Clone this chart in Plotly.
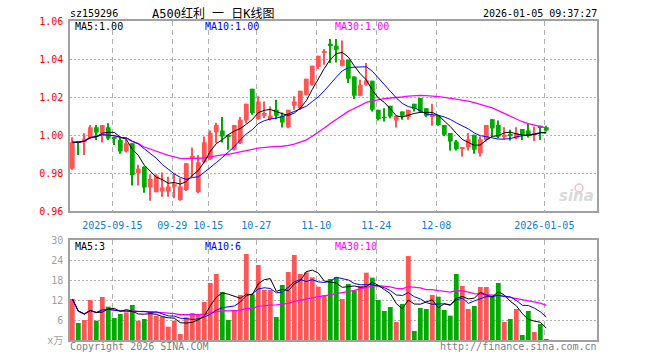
import plotly.graph_objects as go

# ---------------- data ----------------
dates = ["2025-09-04","2025-09-05","2025-09-08","2025-09-09","2025-09-10","2025-09-11","2025-09-12",
         "2025-09-15","2025-09-16","2025-09-17","2025-09-18","2025-09-19","2025-09-22","2025-09-23",
         "2025-09-24","2025-09-25","2025-09-26","2025-09-29","2025-09-30",
         "2025-10-09","2025-10-10","2025-10-13","2025-10-14","2025-10-15","2025-10-16","2025-10-17",
         "2025-10-20","2025-10-21","2025-10-22","2025-10-23","2025-10-24","2025-10-27","2025-10-28",
         "2025-10-29","2025-10-30","2025-10-31",
         "2025-11-03","2025-11-04","2025-11-05","2025-11-06","2025-11-07","2025-11-10","2025-11-11",
         "2025-11-12","2025-11-13","2025-11-14","2025-11-17","2025-11-18","2025-11-19","2025-11-20",
         "2025-11-21","2025-11-24","2025-11-25","2025-11-26","2025-11-27","2025-11-28",
         "2025-12-01","2025-12-02","2025-12-03","2025-12-04","2025-12-05","2025-12-08","2025-12-09",
         "2025-12-10","2025-12-11","2025-12-12","2025-12-15","2025-12-16","2025-12-17","2025-12-18",
         "2025-12-19","2025-12-22","2025-12-23","2025-12-24","2025-12-25","2025-12-26","2025-12-29",
         "2025-12-30","2025-12-31","2026-01-05"]

open_ = [0.9823,0.9965,0.9963,0.9984,1.0042,1.0010,1.0042,0.9986,0.9975,0.9914,
         0.9958,0.9800,0.9835,0.9725,0.9700,0.9704,0.9704,0.9730,0.9660,0.9712,
         0.9882,0.9700,0.9858,0.9874,1.0016,1.0025,0.9998,0.9923,0.9958,1.0077,
         1.0244,1.0084,1.0102,1.0084,1.0133,1.0102,1.0042,1.0154,1.0142,1.0212,
         1.0265,1.0358,1.0432,1.0480,1.0470,1.0365,1.0396,1.0309,1.0207,1.0265,
         1.0286,1.0133,1.0095,1.0154,1.0077,1.0125,1.0095,1.0165,1.0195,1.0142,
         1.0098,1.0102,1.0054,1.0011,0.9967,0.9930,0.9937,1.0002,0.9905,0.9975,
         1.0084,1.0054,0.9993,1.0000,0.9982,1.0033,1.0025,1.0005,1.0049,1.0042]
high = [0.9989,0.9966,1.0010,1.0054,1.0054,1.0054,1.0063,0.9993,0.9993,0.9975,
        0.9958,0.9844,0.9835,0.9795,0.9795,0.9804,0.9782,0.9800,0.9774,0.9853,
        0.9935,0.9896,0.9993,1.0025,1.0065,1.0095,1.0002,1.0054,1.0095,1.0165,
        1.0244,1.0204,1.0177,1.0151,1.0186,1.0119,1.0133,1.0204,1.0233,1.0296,
        1.0365,1.0418,1.0453,1.0505,1.0505,1.0498,1.0396,1.0309,1.0291,1.0379,
        1.0286,1.0133,1.0142,1.0154,1.0102,1.0125,1.0133,1.0165,1.0195,1.0142,
        1.0165,1.0102,1.0054,1.0011,0.9975,0.9937,1.0011,1.0002,0.9993,1.0054,
        1.0084,1.0077,1.0042,1.0028,1.0042,1.0033,1.0060,1.0046,1.0049,1.0049]
low = [0.9818,0.9896,0.9896,0.9980,0.9975,0.9961,0.9975,0.9949,0.9902,0.9909,
       0.9735,0.9735,0.9698,0.9656,0.9700,0.9677,0.9677,0.9668,0.9656,0.9707,
       0.9782,0.9695,0.9853,0.9870,0.9958,0.9961,0.9923,0.9919,0.9953,1.0063,
       1.0107,1.0081,1.0090,1.0077,1.0084,1.0040,1.0037,1.0133,1.0133,1.0209,
       1.0260,1.0346,1.0370,1.0379,1.0382,1.0361,1.0274,1.0190,1.0204,1.0260,
       1.0125,1.0077,1.0072,1.0089,1.0040,1.0081,1.0081,1.0125,1.0119,1.0095,
       1.0049,1.0049,0.9996,0.9919,0.9919,0.9888,0.9919,0.9902,0.9888,0.9967,
       0.9993,0.9984,0.9979,0.9972,0.9979,0.9975,0.9988,0.9970,0.9975,1.0019]
close = [0.9963,0.9962,0.9981,1.0042,1.0014,1.0054,0.9982,0.9983,0.9914,0.9958,
         0.9791,0.9823,0.9725,0.9770,0.9788,0.9725,0.9730,0.9742,0.9730,0.9853,
         0.9891,0.9858,0.9963,1.0011,1.0054,0.9993,0.9993,1.0054,1.0081,1.0165,
         1.0116,1.0177,1.0116,1.0102,1.0102,1.0067,1.0133,1.0177,1.0233,1.0296,
         1.0365,1.0418,1.0440,1.0472,1.0449,1.0396,1.0296,1.0207,1.0265,1.0288,
         1.0133,1.0084,1.0091,1.0098,1.0102,1.0102,1.0133,1.0137,1.0125,1.0102,
         1.0102,1.0054,1.0002,0.9967,0.9926,0.9937,0.9979,0.9923,0.9979,1.0054,
         1.0035,0.9993,1.0000,0.9997,1.0011,1.0000,0.9996,1.0011,1.0042,1.0025]

ma5 = [0.9963,0.99625,0.99687,0.9987,0.99924,1.00106,1.00146,1.0015,0.99894,0.99782,
       0.99256,0.98938,0.98422,0.98134,0.97794,0.97662,0.97476,0.9751,0.9743,0.9756,
       0.97892,0.98148,0.9859,0.99152,0.99554,0.99758,1.00028,1.0021,1.0035,1.00572,
       1.00818,1.01186,1.0131,1.01352,1.01226,1.01128,1.0104,1.01162,1.01424,1.01812,
       1.02408,1.02978,1.03504,1.03982,1.04288,1.0435,1.04106,1.0364,1.03226,1.02904,
       1.02378,1.01954,1.01722,1.01388,1.01016,1.00954,1.01052,1.01144,1.01198,1.01198,
       1.01198,1.0104,1.0077,1.00454,1.00102,0.99772,0.99622,0.99464,0.99488,0.99744,
       0.9994,0.99968,1.00122,1.00158,1.00072,1.00002,1.00008,1.0003,1.0012,1.00148]
ma10 = [0.9963,0.99625,0.99687,0.9987,0.99924,1.00027,0.99997,0.99976,0.99883,0.99853,
        0.99681,0.99542,0.99286,0.99014,0.98788,0.98459,0.98207,0.97966,0.97782,0.97677,
        0.97777,0.97812,0.9805,0.98291,0.98557,0.98825,0.99088,0.994,0.99751,1.00063,
        1.00288,1.00607,1.0076,1.00851,1.00899,1.00973,1.01113,1.01236,1.01388,1.01519,
        1.01768,1.02009,1.02333,1.02703,1.0305,1.03379,1.03542,1.03572,1.03604,1.03596,
        1.03364,1.0303,1.02681,1.02307,1.0196,1.01666,1.01503,1.01433,1.01293,1.01107,
        1.01076,1.01046,1.00957,1.00826,1.0065,1.00485,1.00331,1.00117,0.99971,0.99923,
        0.99856,0.99795,0.99793,0.99823,0.99908,0.99971,0.99988,1.00076,1.00139,1.0011]
ma30 = [0.9963,0.99625,0.99687,0.9987,0.99924,1.00027,0.99997,0.99976,0.99883,0.99853,
        0.99676,0.99556,0.99378,0.99259,0.99167,0.99047,0.98944,0.98859,0.98777,0.98765,
        0.98772,0.98763,0.98801,0.98855,0.98923,0.98962,0.98997,0.99053,0.99113,0.99198,
        0.99249,0.9932,0.99365,0.99385,0.99415,0.99419,0.99469,0.99534,0.9964,0.99753,
        0.99944,1.00143,1.00381,1.00615,1.00835,1.01059,1.01248,1.01403,1.01581,1.01726,
        1.01807,1.01882,1.01925,1.01954,1.0197,1.02006,1.02053,1.0208,1.02095,1.02074,
        1.02069,1.02028,1.0199,1.01945,1.01887,1.01843,1.01792,1.01707,1.01623,1.01542,
        1.01432,1.0129,1.01144,1.00985,1.00839,1.00707,1.00607,1.00542,1.00468,1.0038]

volume = [12.3,5.1,6.0,12.0,5.8,12.9,10.0,6.6,7.8,8.3,
          10.5,5.8,6.3,8.7,7.3,7.0,4.0,5.8,1.8,6.8,
          8.1,7.8,11.4,17.1,19.8,14.4,6.0,8.9,13.5,25.8,
          13.7,22.5,15.0,15.0,6.9,16.5,20.4,25.5,19.8,20.3,
          18.8,16.0,13.5,18.3,18.9,12.3,16.8,14.8,16.2,20.2,
          18.7,12.0,8.7,9.9,5.4,10.8,25.2,2.7,9.6,9.3,
          13.5,13.0,9.0,7.3,19.8,16.2,9.3,10.2,15.9,15.9,
          13.3,17.1,5.4,6.3,9.3,1.5,8.7,2.4,4.8,0.3]
vma5 = [12.3,8.7,7.8,8.85,8.24,8.36,9.34,9.46,8.62,9.12,
        8.64,7.8,7.74,7.92,7.72,7.02,6.66,6.56,5.18,5.08,
        5.3,6.06,7.18,10.24,12.84,14.1,13.74,13.24,12.52,13.72,
        13.58,16.88,18.1,18.4,14.62,15.18,14.76,16.86,17.82,20.5,
        20.96,20.08,17.68,17.38,17.1,15.8,15.96,16.22,15.8,16.06,
        17.34,16.38,15.16,13.9,10.94,9.36,12.0,10.8,10.74,11.52,
        12.06,9.62,10.88,10.42,12.52,13.06,12.32,12.56,14.28,13.5,
        12.92,14.48,13.52,11.6,10.28,7.92,6.24,5.64,5.34,3.54]
vma10 = [12.3,8.7,7.8,8.85,8.24,9.02,9.16,8.84,8.72,8.68,
         8.5,8.57,8.6,8.27,8.42,7.83,7.23,7.15,6.55,6.4,
         6.16,6.36,6.87,7.71,8.96,9.7,9.9,10.21,11.38,13.28,
         13.84,15.31,15.67,15.46,14.17,14.38,15.82,17.48,18.11,17.56,
         18.07,17.42,17.27,17.6,18.8,18.38,18.02,16.95,16.59,16.58,
         16.57,16.17,15.69,14.85,13.5,13.35,14.19,12.98,12.32,11.23,
         10.71,10.81,10.84,10.58,12.02,12.56,10.97,11.72,12.35,13.01,
         12.99,13.4,13.04,12.94,11.89,10.42,10.36,9.58,8.47,6.91]
vma30 = [12.3,8.7,7.8,8.85,8.24,9.02,9.16,8.84,8.72,8.68,
         8.85,8.59,8.42,8.44,8.36,8.28,8.02,7.9,7.58,7.54,
         7.57,7.58,7.74,8.13,8.6,8.82,8.72,8.73,8.89,9.45,
         9.5,10.08,10.38,10.48,10.52,10.64,10.98,11.61,12.01,12.41,
         12.69,13.03,13.27,13.59,13.98,14.15,14.58,14.88,15.36,15.81,
         16.16,16.3,16.21,15.97,15.49,15.37,16.01,15.8,15.67,15.12,
         15.12,14.8,14.6,14.34,14.77,14.76,14.39,13.88,13.75,13.61,
         13.42,13.46,13.19,12.79,12.47,12.11,11.84,11.43,11.05,10.38]

tick_idx = [7, 17, 23, 31, 41, 51, 61, 79]
tick_text = ["2025-09-15", "09-29", "10-15", "10-27", "11-10", "11-24", "12-08", "2026-01-05"]
price_ticks = [0.96, 0.98, 1.00, 1.02, 1.04, 1.06]
vol_ticks = [0, 6, 12, 18, 24, 30]
vol_tick_text = ["x万", "6", "12", "18", "24", "30"]

symbol = "sz159296"
title = "A500红利 一 日K线图"
stamp = "2026-01-05 09:37:27"

# ---------------- style ----------------
RED = "#FF5555"
GREEN = "#00AA00"
MONO = "DejaVu Sans Mono, Noto Sans CJK SC"
GRID = "#B0B0B0"
BORDER = "#A0A0A0"

W, H = 660, 360
ML, MR, MT, MB = 70, 63, 21, 20
PW, PH = W - ML - MR, H - MT - MB


def px(xp):
    return (xp - ML) / PW


def py(yp):
    return (H - MB - yp) / PH


n = len(close)
idx = list(range(n))
cols = [RED if c >= o else GREEN for o, c in zip(open_, close)]

MINB = 0.0005
body_base, body_h = [], []
for o, c in zip(open_, close):
    lo, hi = min(o, c), max(o, c)
    if hi - lo < MINB:
        mid = (hi + lo) / 2
        lo, hi = mid - MINB / 2, mid + MINB / 2
    body_base.append(lo)
    body_h.append(hi - lo)

fig = go.Figure()
# wicks
fig.add_trace(go.Bar(x=idx, y=[h - l for h, l in zip(high, low)], base=low, width=0.18,
                     marker=dict(color=cols, line_width=0), xaxis="x", yaxis="y",
                     hoverinfo="skip"))
# bodies
fig.add_trace(go.Bar(x=idx, y=body_h, base=body_base, width=0.8,
                     marker=dict(color=cols, line_width=0), xaxis="x", yaxis="y",
                     customdata=list(zip(dates, open_, high, low, close)),
                     hovertemplate="%{customdata[0]}<br>O %{customdata[1]}<br>H %{customdata[2]}"
                                   "<br>L %{customdata[3]}<br>C %{customdata[4]}<extra></extra>"))
for arr, col, w in [(ma30, "#FF00FF", 1.3), (ma10, "#0000FF", 1.0), (ma5, "#000000", 1.0)]:
    fig.add_trace(go.Scatter(x=idx, y=arr, mode="lines", line=dict(color=col, width=w),
                             xaxis="x", yaxis="y", hoverinfo="skip"))

# volume
fig.add_trace(go.Bar(x=idx, y=volume, width=0.8, marker=dict(color=cols, line_width=0),
                     xaxis="x2", yaxis="y2", customdata=dates,
                     hovertemplate="%{customdata}<br>%{y}<extra></extra>"))
for arr, col, w in [(vma30, "#FF00FF", 1.3), (vma10, "#0000FF", 1.0), (vma5, "#000000", 1.0)]:
    fig.add_trace(go.Scatter(x=idx, y=arr, mode="lines", line=dict(color=col, width=w),
                             xaxis="x2", yaxis="y2", hoverinfo="skip"))

xr = [(ML - 72.3) / 6.0, (W - MR - 72.3) / 6.0]
tickpos = [i - 1 / 3 for i in tick_idx]

common_x = dict(range=xr, tickmode="array", tickvals=tickpos, showgrid=True, gridcolor=GRID,
                griddash="5px,4px", gridwidth=1, zeroline=False, showline=True, mirror=True,
                linecolor=BORDER, linewidth=1.5, fixedrange=True)
common_y = dict(showgrid=True, gridcolor=GRID, griddash="2px,2px", gridwidth=1, zeroline=False,
                showline=True, mirror=True, linecolor=BORDER, linewidth=1.5, fixedrange=True,
                tickmode="array", ticks="outside", ticklen=3, tickcolor="rgba(0,0,0,0)")

fig.update_layout(
    width=W, height=H, margin=dict(l=ML, r=MR, t=MT, b=MB),
    paper_bgcolor="white", plot_bgcolor="white", showlegend=False,
    barmode="overlay", hovermode="closest",
    xaxis=dict(**common_x, anchor="y", domain=[0, 1], ticktext=tick_text,
               ticks="outside", ticklen=4, tickcolor="rgba(0,0,0,0)",
               tickfont=dict(family=MONO, size=10, color="#0A7ED6")),
    yaxis=dict(**common_y, domain=[py(211.3), 1.0], range=[0.96, 1.06], tickvals=price_ticks,
               ticktext=["%.2f" % v for v in price_ticks],
               tickfont=dict(family=MONO, size=10, color="#FF0000")),
    xaxis2=dict(**common_x, anchor="y2", domain=[0, 1], matches="x", showticklabels=False),
    yaxis2=dict(**common_y, domain=[0, py(240)], range=[0, 30], tickvals=vol_ticks,
                ticktext=vol_tick_text, tickfont=dict(family=MONO, size=10, color="#A0A0A0")),
)

ann = []


def text(x, y, s, color="#000000", size=10, xanchor="left", family=MONO, **kw):
    ann.append(dict(x=px(x), y=py(y), xref="paper", yref="paper", text=s, showarrow=False,
                    xanchor=xanchor, yanchor="middle", font=dict(family=family, size=size, color=color),
                    **kw))


text(68, 13, symbol)
text(150, 13, title, size=12)
text(599, 13, stamp, xanchor="right")
text(73, 26.5, "MA5:%.2f" % ma5[-1])
text(203, 26.5, "MA10:%.2f" % ma10[-1], color="#0000FF")
text(333, 26.5, "MA30:%.2f" % ma30[-1], color="#FF00FF")
text(73, 247, "MA5:%d" % int(vma5[-1]))
text(203, 247, "MA10:%d" % int(vma10[-1]), color="#0000FF")
text(333, 247, "MA30:%d" % int(vma30[-1]), color="#FF00FF")
text(68, 346, "Copyright 2026 SINA.COM", color="#808080")
text(599, 346, "http://finance.sina.com.cn", color="#808080", xanchor="right")
# watermark
text(596, 196, "<b><i>sina</i></b>", color="#DADADA", size=15, xanchor="right", family="DejaVu Sans")
fig.update_layout(annotations=ann)
fig.add_shape(type="circle", xref="paper", yref="paper", x0=px(575), x1=px(583), y0=py(192), y1=py(184),
              line=dict(color="#F5C0C0", width=1.5))

fig.write_html("out.html", config={"displayModeBar": False},
               post_script="document.body.style.margin='0';document.body.style.overflow='hidden';")
